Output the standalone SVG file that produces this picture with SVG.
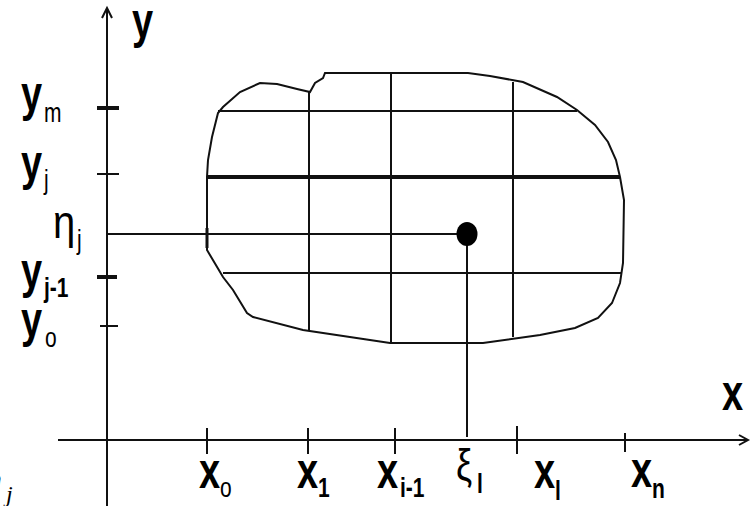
<svg xmlns="http://www.w3.org/2000/svg" width="755" height="506" viewBox="0 0 755 506">
<style>
.ln{stroke:#111;stroke-width:2;fill:none;stroke-linecap:butt}
.thk{stroke:#111;stroke-width:4;fill:none}
.big{font-family:"Liberation Sans",Arial,sans-serif;font-weight:bold;font-size:38px;fill:#000}
.sub{font-family:"Liberation Sans",Arial,sans-serif;font-size:21px;fill:#000}
.subb{font-family:"Liberation Sans",Arial,sans-serif;font-weight:bold;font-size:21px;fill:#000}
.gr{font-family:"Liberation Sans",Arial,sans-serif;font-size:40px;fill:#000}
.it{font-family:"Liberation Serif","Times New Roman",serif;font-style:italic;font-size:36px;fill:#000}
</style>
<rect width="755" height="506" fill="#fff"/>
<g id="axes">
  <line class="ln" x1="107" y1="8" x2="107" y2="506"/>
  <polyline class="ln" points="102,18 107,8 112,18" stroke-width="1.5"/>
  <line class="ln" x1="58" y1="440" x2="747" y2="440"/>
  <polyline class="ln" points="739,435 748,440 739,445" stroke-width="1.5"/>
</g>
<g id="ticks">
  <line x1="97" y1="108" x2="119" y2="108" stroke="#111" stroke-width="4"/>
  <line class="ln" x1="97" y1="174" x2="119" y2="174"/>
  <line x1="97" y1="277" x2="117" y2="277" stroke="#111" stroke-width="4"/>
  <line class="ln" x1="100" y1="326" x2="118" y2="326"/>
  <line class="ln" x1="207" y1="428" x2="207" y2="454"/>
  <line class="ln" x1="308" y1="428" x2="308" y2="454"/>
  <line class="ln" x1="395" y1="428" x2="395" y2="454"/>
  <line class="ln" x1="517" y1="426" x2="517" y2="454"/>
  <line class="ln" x1="625" y1="433" x2="625" y2="452"/>
</g>
<g id="region">
  <path class="ln" d="M325,73 L468,73 L490,76 L523,82 L557,97 L577,110 L595,125 L608,142 L616,160 L620,177 L624,200 L623,263 L620,283 L612,303 L598,318 L575,328 L540,335 L483,343 L390,343 L303,330 L253,317 L247,313 L233,290 L223,277 L207,250 L207,177 L208,160 L212,137 L218,113 L223,107 L240,92 L260,83 L277,84 L297,89 L310,92 L315,83 L323,78 Z"/>
  <line x1="207" y1="228" x2="207" y2="248" stroke="#111" stroke-width="3"/>
</g>
<g id="grid">
  <line class="ln" x1="218" y1="111" x2="577" y2="111"/>
  <line class="thk" x1="207" y1="177" x2="620" y2="177"/>
  <line class="ln" x1="223" y1="273" x2="622" y2="273"/>
  <line class="ln" x1="309" y1="92" x2="309" y2="330"/>
  <line class="ln" x1="391" y1="73" x2="391" y2="343"/>
  <line class="ln" x1="513" y1="82" x2="513" y2="337"/>
</g>
<g id="connectors">
  <line class="ln" x1="107" y1="234" x2="467" y2="234"/>
  <line class="ln" x1="467" y1="234" x2="467" y2="437"/>
</g>
<g id="point">
  <ellipse cx="467" cy="234" rx="10.5" ry="12" fill="#000"/>
</g>
<g id="labels">
  <text class="big" transform="translate(132,38) scale(1,1.3)">y</text>
  <text class="big" transform="translate(722,410) scale(1,1.3)">x</text>
  <text class="big" transform="translate(21,111) scale(1,1.3)">y</text>
  <text class="sub" transform="translate(44,122) scale(1,1.3)">m</text>
  <text class="big" transform="translate(21,180) scale(1,1.3)">y</text>
  <text class="sub" transform="translate(44,189) scale(1,1.3)">j</text>
  <text class="gr" transform="translate(53,238) scale(1,1.15)">η</text>
  <text class="sub" transform="translate(77,249) scale(1,1.3)">j</text>
  <text class="big" transform="translate(21,288) scale(1,1.3)">y</text>
  <text class="subb" transform="translate(44,297) scale(1,1.3)">j-1</text>
  <text class="big" transform="translate(21,337) scale(1,1.3)">y</text>
  <text class="sub" transform="translate(45,347) scale(1,1.3)">o</text>
  <text class="big" transform="translate(199,488) scale(1,1.3)">x</text>
  <text class="sub" transform="translate(220,497) scale(1,1.3)">o</text>
  <text class="big" transform="translate(297,488) scale(1,1.3)">x</text>
  <text class="subb" transform="translate(318,497) scale(1,1.3)">1</text>
  <text class="big" transform="translate(377,488) scale(1,1.3)">x</text>
  <text class="subb" transform="translate(400,497) scale(1,1.3)">i-1</text>
  <text class="sub" style="font-size:36px" transform="translate(456,480) scale(1,1.25)">ξ</text>
  <text class="subb" transform="translate(477,493) scale(1,1.3)">l</text>
  <text class="big" transform="translate(534,488) scale(1,1.3)">x</text>
  <text class="subb" transform="translate(555,500) scale(1,1.3)">l</text>
  <text class="big" transform="translate(631,487) scale(1,1.3)">x</text>
  <text class="subb" transform="translate(652,498) scale(1,1.3)">n</text>
  <text class="it" x="-16" y="492">η</text>
  <text class="it" style="font-size:24px" x="6" y="502">j</text>
</g>
</svg>
